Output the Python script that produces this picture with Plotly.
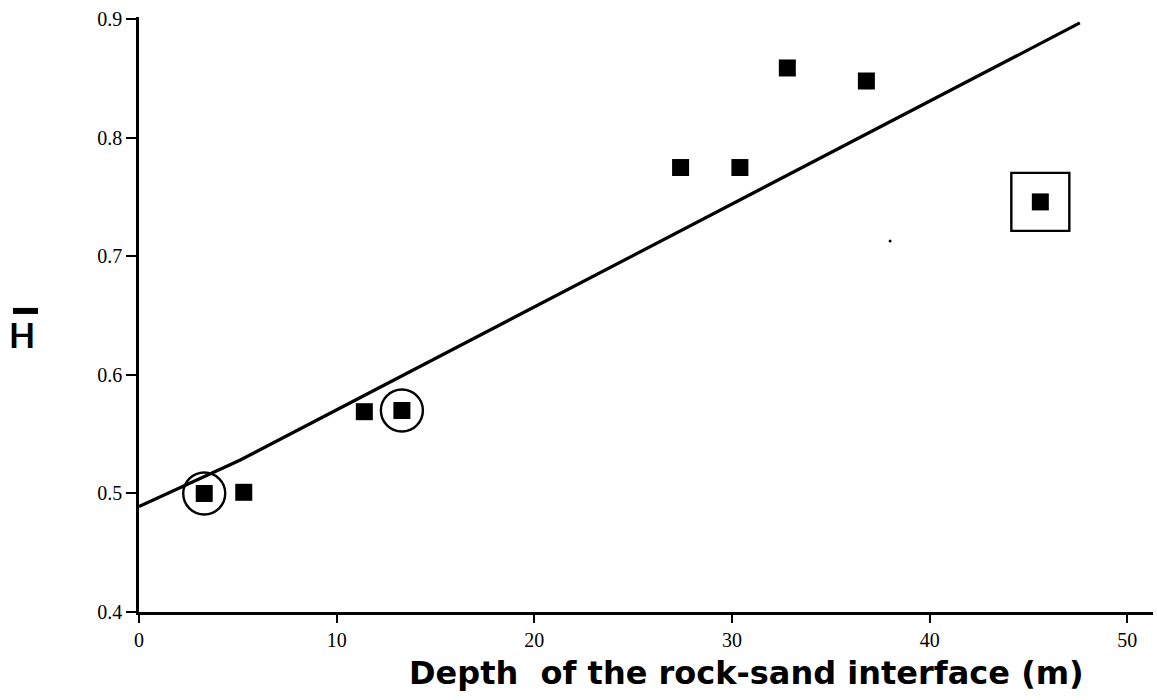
import plotly.graph_objects as go

# Data
depth = [3.3, 5.3, 11.4, 13.3, 27.4, 30.4, 32.8, 36.8, 45.6]
h_bar = [0.500, 0.501, 0.569, 0.570, 0.775, 0.775, 0.859, 0.848, 0.746]

circled_depth = [3.3, 13.3]
circled_h = [0.500, 0.570]

boxed_depth = [45.6]
boxed_h = [0.746]

# hand-drawn trend line
fit_x = [0.0, 5.1, 47.6]
fit_y = [0.489, 0.528, 0.897]

speck_x = [38.0]
speck_y = [0.713]

x_ticks = [0, 10, 20, 30, 40, 50]
y_ticks = [0.4, 0.5, 0.6, 0.7, 0.8, 0.9]
y_tick_text = ["0.4", "0.5", "0.6", "0.7", "0.8", "0.9"]

fig = go.Figure()

fig.add_trace(go.Scatter(x=fit_x, y=fit_y, mode="lines",
                         line=dict(color="black", width=3.2), showlegend=False,
                         cliponaxis=False))
fig.add_trace(go.Scatter(x=depth, y=h_bar, mode="markers",
                         marker=dict(symbol="square", size=17, color="black"),
                         showlegend=False))
fig.add_trace(go.Scatter(x=circled_depth, y=circled_h, mode="markers",
                         marker=dict(symbol="circle-open", size=42, color="black",
                                     line=dict(width=2.4, color="black")),
                         showlegend=False))
fig.add_trace(go.Scatter(x=boxed_depth, y=boxed_h, mode="markers",
                         marker=dict(symbol="square-open", size=58, color="black",
                                     line=dict(width=2.4, color="black")),
                         showlegend=False))
fig.add_trace(go.Scatter(x=speck_x, y=speck_y, mode="markers",
                         marker=dict(symbol="circle", size=3, color="black"),
                         showlegend=False))

tick_font = dict(family="Liberation Serif", size=20, color="black")

fig.update_layout(
    width=1157, height=700,
    margin=dict(l=139, r=4, t=17, b=88),
    paper_bgcolor="white", plot_bgcolor="white",
    xaxis=dict(range=[0, 51.3], tickvals=x_ticks, ticktext=[str(v) for v in x_ticks],
               showgrid=False, zeroline=False, showline=True, linecolor="black",
               linewidth=2.5, ticks="outside", ticklen=8, tickwidth=2,
               tickcolor="black", tickfont=tick_font),
    yaxis=dict(range=[0.4, 0.902], tickvals=y_ticks, ticktext=y_tick_text,
               showgrid=False, zeroline=False, showline=True, linecolor="black",
               linewidth=2.5, ticks="outside", ticklen=10, tickwidth=2,
               tickcolor="black", tickfont=tick_font),
)

# x-axis title (off-centre to the right, as in the reference)
fig.add_annotation(text="<b>Depth  of the rock-sand interface (m)</b>",
                   xref="paper", yref="paper", x=0.5996, y=-0.1025,
                   showarrow=False, xanchor="center", yanchor="middle",
                   font=dict(family="DejaVu Sans", size=32, color="black"))

# y-axis title: H with overbar
fig.add_annotation(text="<b>H</b>", xref="paper", yref="paper", x=-0.1149, y=0.466,
                   showarrow=False, font=dict(family="Lato", size=34, color="black"),
                   xanchor="center", yanchor="middle")
fig.add_shape(type="line", xref="paper", yref="paper",
              x0=-0.1243, x1=-0.0996, y0=0.506, y1=0.506,
              line=dict(color="black", width=6))

fig.write_html("out.html")
